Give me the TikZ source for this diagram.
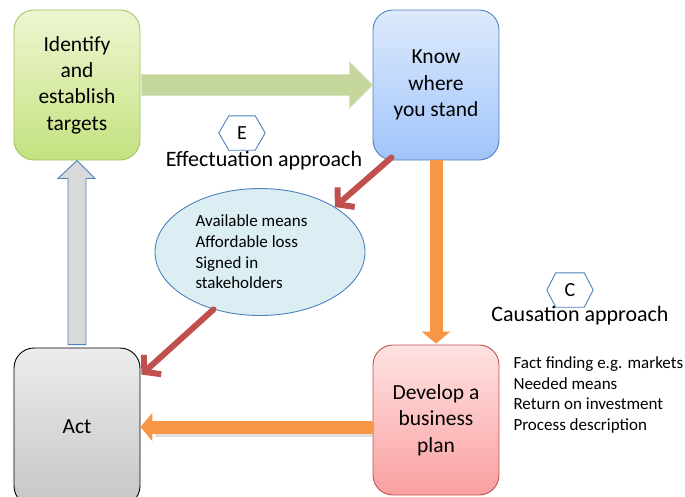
\documentclass[tikz,border=0pt]{standalone}
\usepackage{fontspec}
\setmainfont{Carlito}
\usetikzlibrary{calc,arrows.meta,shapes.geometric}

\definecolor{grnTop}{RGB}{238,246,210}
\definecolor{grnBot}{RGB}{196,226,128}
\definecolor{grnLine}{RGB}{160,196,100}
\definecolor{bluTop}{RGB}{222,234,252}
\definecolor{bluBot}{RGB}{160,196,250}
\definecolor{bluLine}{RGB}{79,129,189}
\definecolor{redTop}{RGB}{255,226,226}
\definecolor{redBot}{RGB}{250,160,160}
\definecolor{redLine}{RGB}{192,80,77}
\definecolor{gryTop}{RGB}{236,236,236}
\definecolor{gryBot}{RGB}{198,198,198}
\definecolor{arrGreen}{RGB}{196,214,155}
\definecolor{arrGreenLine}{RGB}{215,228,190}
\definecolor{arrGray}{RGB}{217,217,217}
\definecolor{arrOrange}{RGB}{247,150,70}
\definecolor{arrRed}{RGB}{192,80,77}
\definecolor{ellFill}{RGB}{219,238,244}

\tikzset{
  stagebox/.style={rectangle, rounded corners=20pt, minimum width=126pt,
    minimum height=150pt, align=center, font=\fontsize{21.5}{26.3}\selectfont,
    line width=0.9pt},
  hexlabel/.style={minimum width=46pt, minimum height=34pt, inner sep=0pt,
    font=\fontsize{20}{22}\selectfont},
  hexline/.style={draw=bluLine, line width=0.9pt},
  caption/.style={font=\fontsize{22}{24}\selectfont},
  listtext/.style={align=left, font=\fontsize{17}{20.7}\selectfont},
  orangearrow/.style={draw=arrOrange, line width=13pt,
    -{Triangle[length=12pt,width=28pt]}},
  redarrow/.style={draw=arrRed, line width=6pt, line cap=round,
    -{Straight Barb[length=11pt,width=26pt,line width=6pt]}},
}

\begin{document}
\begin{tikzpicture}[x=1pt,y=-1pt]
  \useasboundingbox (0,0) rectangle (685,496);

  % stage boxes
  \node[stagebox, draw=grnLine, top color=grnTop, bottom color=grnBot]
    (ident) at (77,85) {Identify\\and\\establish\\targets};
  \node[stagebox, draw=bluLine, top color=bluTop, bottom color=bluBot]
    (know) at (436,85) {Know\\where\\you stand};
  \node[stagebox, draw=redLine, top color=redTop, bottom color=redBot]
    (plan) at (436,420) {Develop a\\business\\plan};
  \node[stagebox, draw=black, top color=gryTop, bottom color=gryBot,
    minimum height=158pt]
    (act) at (77,427) {Act};

  % means ellipse
  \node[ellipse, draw=bluLine, fill=ellFill, line width=0.9pt,
    minimum width=210pt, minimum height=127pt] (means) at (260,252) {};
  \node[listtext, anchor=west] (meanstext) at (192,252)
    {Available means\\Affordable loss\\Signed in\\stakeholders};

  % approach markers
  \node[hexlabel] (E) at (242,133) {E};
  \draw[hexline] (E.west) -- ($(E.north west)+(10,0)$) -- ($(E.north east)+(-10,0)$)
    -- (E.east) -- ($(E.south east)+(-10,0)$) -- ($(E.south west)+(10,0)$) -- cycle;
  \node[caption] (effect) at (264,161) {Effectuation approach};

  \node[hexlabel] (C) at (570,290) {C};
  \draw[hexline] (C.west) -- ($(C.north west)+(9,0)$) -- ($(C.north east)+(-9,0)$)
    -- (C.east) -- ($(C.south east)+(-9,0)$) -- ($(C.south west)+(9,0)$) -- cycle;
  \node[caption] (cause) at (580,316) {Causation approach};

  \node[listtext, anchor=north west] (plantext) at (510,353)
    {Fact finding e.g. markets\\Needed means\\Return on investment\\Process description};

  % green block arrow: targets -> know where you stand
  \draw[draw=arrGreenLine, fill=arrGreen, line width=0.8pt]
    ($(ident.east)+(1,-10.5)$) -- ($(know.west)+(-23,-10.5)$)
    -- ($(know.west)+(-23,-23)$) -- (know.west) -- ($(know.west)+(-23,23)$)
    -- ($(know.west)+(-23,10.5)$) -- ($(ident.east)+(1,10.5)$) -- cycle;

  % gray block arrow: act -> targets
  \draw[draw=bluLine, fill=arrGray, line width=0.9pt]
    ($(act.north)+(-9,-3)$) -- ($(ident.south)+(-9,18)$)
    -- ($(ident.south)+(-19,18)$) -- (ident.south) -- ($(ident.south)+(18,18)$)
    -- ($(ident.south)+(9,18)$) -- ($(act.north)+(9,-3)$) -- cycle;

  % causation path
  \draw[orangearrow] (know.south) -- ($(plan.north)+(0,-1)$);
  \draw[draw=black!25, line width=13pt, opacity=0.5]
    ($(act.east -| plan.west)+(0,3)$) -- ($(act.east)+(15,3)$);
  \draw[orangearrow] (act.east -| plan.west) -- (act.east);

  % effectuation path
  \draw[redarrow] ($(know.south west)+(19,-3)$) -- (means.31);
  \draw[redarrow] (means.231) -- ($(act.north east)+(1,27)$);
\end{tikzpicture}
\end{document}
